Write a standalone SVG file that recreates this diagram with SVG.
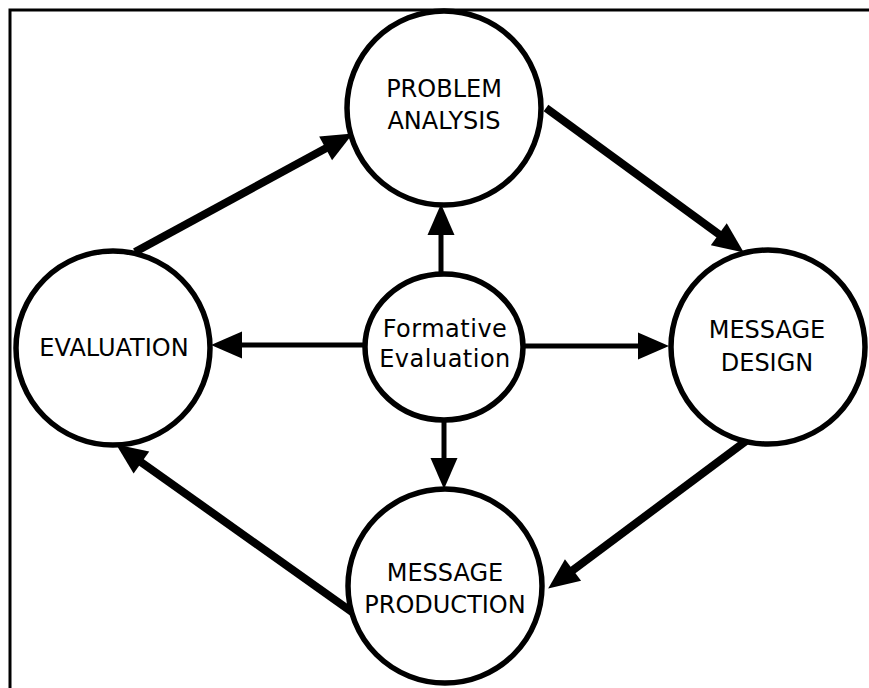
<svg xmlns="http://www.w3.org/2000/svg" width="869" height="688" viewBox="0 0 869 688">
<style>
.node{fill:#fff;stroke:#000;stroke-width:5.5}
.lbl{font-family:"DejaVu Sans","Liberation Sans",sans-serif;font-size:24px;fill:#000;text-anchor:middle}
.outer{stroke:#000;stroke-width:8;fill:none;marker-end:url(#ah)}
.inner{stroke:#000;stroke-width:5;fill:none;marker-end:url(#ah)}
</style>
<defs>
<marker id="ah" markerUnits="userSpaceOnUse" markerWidth="31" markerHeight="27" refX="15" refY="13.5" orient="auto" overflow="visible">
<path d="M0,0 L31,13.5 L0,27 Z" fill="#000"/>
</marker>
</defs>
<rect width="869" height="688" fill="#fff"/>
<path d="M10,688 V10 H869" fill="none" stroke="#000" stroke-width="3"/>
<g id="connectors">
<line class="outer" x1="135" y1="252" x2="338.8" y2="141.2"/>
<line class="outer" x1="546" y1="108" x2="730.9" y2="243.1"/>
<line class="outer" x1="746" y1="441" x2="561" y2="579"/>
<line class="outer" x1="352" y1="612" x2="129.2" y2="453.7"/>
<line class="inner" x1="441" y1="274" x2="441" y2="220"/>
<line class="inner" x1="365" y1="345" x2="227" y2="345"/>
<line class="inner" x1="523" y1="346" x2="653" y2="346"/>
<line class="inner" x1="444" y1="420" x2="444" y2="473"/>
</g>
<g id="problem-analysis">
<circle class="node" cx="444" cy="108" r="97"/>
<text class="lbl" x="444" y="97">PROBLEM</text>
<text class="lbl" x="444" y="129">ANALYSIS</text>
</g>
<g id="evaluation">
<circle class="node" cx="113" cy="348" r="97"/>
<text class="lbl" x="114" y="356">EVALUATION</text>
</g>
<g id="message-design">
<circle class="node" cx="768" cy="347" r="97"/>
<text class="lbl" x="767" y="338">MESSAGE</text>
<text class="lbl" x="767" y="371">DESIGN</text>
</g>
<g id="message-production">
<circle class="node" cx="445" cy="586" r="97"/>
<text class="lbl" x="445" y="581">MESSAGE</text>
<text class="lbl" x="445" y="613">PRODUCTION</text>
</g>
<g id="formative-evaluation">
<ellipse class="node" cx="444" cy="347" rx="79" ry="73"/>
<text class="lbl" x="445" y="337" letter-spacing="0.5">Formative</text>
<text class="lbl" x="445" y="367" letter-spacing="0.5">Evaluation</text>
</g>
</svg>
